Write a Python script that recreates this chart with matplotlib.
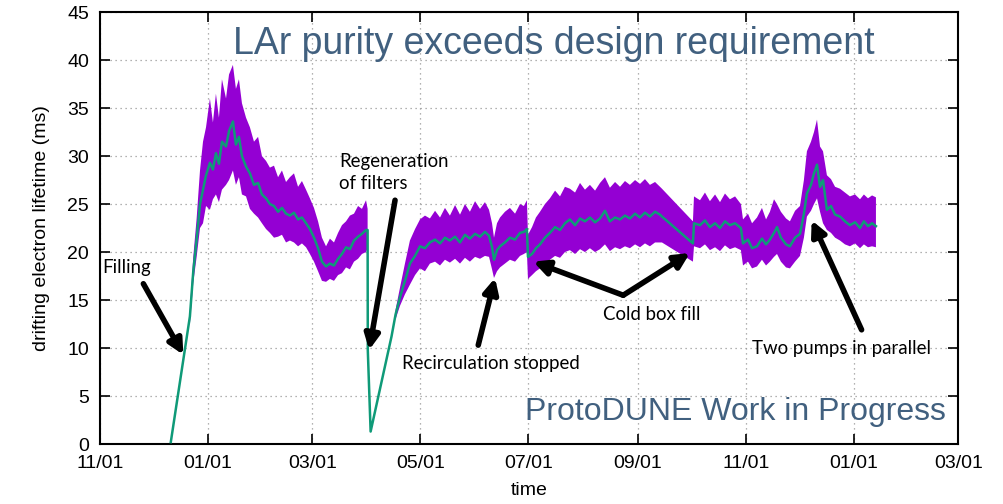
import numpy as np
import pandas as pd
import matplotlib
matplotlib.use("Agg")
import matplotlib.pyplot as plt
import matplotlib.dates as mdates

# Electron lifetime monitor: mean value (green) and spread (purple band)
start_date = "2017-11-01"
end_date = "2019-03-01"

# days since start_date
days = [
    40.0, 47.6, 50.8, 52.7, 54.6, 56.5, 58.2, 59.9, 62.1, 63.8,
    65.5, 67.2, 68.9, 71.2, 72.9, 75.1, 76.8, 78.5, 80.2, 82.5,
    84.7, 87.0, 89.3, 91.5, 93.8, 96.0, 98.3, 100.6, 102.8, 105.1,
    107.3, 109.6, 111.9, 114.1, 116.4, 118.6, 120.9, 123.2, 125.4, 127.7,
    129.9, 132.2, 134.5, 136.7, 139.0, 141.2, 143.5, 145.8, 148.0, 150.3,
    151.2, 151.3, 152.9, 164.7, 167.0, 169.5, 172.3, 175.1, 178.0, 180.8,
    183.6, 186.4, 189.3, 192.1, 194.9, 197.7, 200.6, 203.4, 206.2, 209.0,
    211.9, 214.7, 217.5, 219.8, 221.5, 222.6, 224.3, 226.0, 228.8, 231.6,
    234.5, 237.3, 239.5, 241.2, 241.8, 244.1, 246.3, 248.6, 251.4, 254.2,
    257.1, 259.9, 262.7, 265.5, 268.4, 271.2, 274.0, 276.8, 279.7, 282.5,
    285.3, 288.1, 291.0, 293.8, 296.6, 299.4, 302.3, 305.1, 307.9, 310.7,
    313.6, 316.4, 317.5, 335.0, 335.6, 339.0, 341.8, 344.6, 347.5, 350.3,
    353.1, 355.9, 358.8, 362.1, 363.3, 366.1, 368.4, 371.2, 374.0, 376.3,
    378.5, 380.8, 382.5, 384.7, 387.6, 389.8, 392.7, 395.5, 397.7, 399.4,
    401.7, 403.4, 405.1, 406.8, 408.5, 410.7, 413.0, 415.3, 418.1, 420.9,
    423.7, 426.6, 429.4, 431.6, 433.9, 436.2, 438.4,
]

lifetime = [
    0.2, 9.4, 13.3, 18.0, 21.3, 25.0, 26.5, 28.0, 29.3, 28.6,
    30.3, 29.2, 31.5, 31.0, 32.6, 33.6, 31.2, 32.0, 30.0, 28.9,
    28.2, 27.0, 27.2, 26.0, 25.6, 25.0, 24.8, 24.2, 24.6, 24.0,
    23.8, 24.1, 23.4, 23.6, 23.0, 22.4, 21.5, 20.4, 19.0, 18.5,
    18.8, 18.6, 19.3, 19.8, 20.5, 20.3, 21.2, 21.6, 21.9, 22.3,
    22.3, 9.8, 1.3, 11.2, 13.5, 15.3, 17.0, 18.8, 19.6, 20.6,
    20.4, 21.0, 21.3, 20.9, 21.5, 21.2, 21.6, 21.0, 21.8, 21.4,
    21.9, 21.6, 22.1, 21.7, 20.5, 19.2, 20.2, 20.6, 21.0, 21.5,
    21.3, 22.0, 22.1, 22.4, 19.5, 19.8, 20.4, 20.8, 21.5, 22.0,
    22.6, 22.3, 23.0, 23.4, 22.8, 23.5, 23.2, 23.6, 23.1, 23.5,
    24.3, 23.2, 23.6, 23.4, 23.8, 23.5, 24.0, 23.6, 24.1, 23.7,
    24.2, 23.9, 23.7, 20.9, 23.0, 22.8, 23.3, 22.6, 23.0, 22.5,
    23.2, 22.8, 23.0, 22.5, 20.9, 21.3, 20.4, 20.6, 21.4, 20.8,
    21.3, 22.0, 22.6, 21.5, 20.8, 20.6, 21.5, 21.9, 24.0, 26.1,
    27.0, 28.2, 29.1, 26.8, 27.5, 24.4, 24.8, 23.9, 23.7, 23.2,
    22.8, 23.1, 22.5, 23.2, 22.7, 23.0, 22.7,
]

nan = np.nan
band_upper = [
    nan, nan, 14.0, 19.5, 23.5, 28.5, 31.5, 33.0, 36.0, 33.5,
    36.5, 34.0, 38.0, 36.0, 38.5, 39.5, 37.0, 38.0, 35.5, 34.0,
    33.0, 31.5, 32.0, 30.0, 29.5, 28.8, 29.0, 27.8, 28.5, 27.3,
    27.8, 28.2, 26.8, 27.4, 26.5, 25.6, 24.6, 23.2, 21.5, 20.6,
    21.4, 21.0, 22.0, 22.8, 23.2, 23.8, 24.0, 24.8, 24.5, 25.4,
    24.5, nan, nan, nan, 14.0, 16.3, 18.8, 21.2, 22.4, 23.4,
    23.8, 23.5, 24.3, 23.6, 24.6, 23.8, 24.9, 23.9, 25.0, 24.2,
    25.3, 24.5, 25.2, 24.4, 23.0, 21.5, 23.0, 23.6, 24.2, 24.6,
    24.0, 25.0, 24.8, 25.4, 21.8, 22.6, 23.6, 24.2, 25.0, 25.6,
    26.4, 25.8, 26.8, 26.6, 26.2, 27.2, 26.5, 27.0, 26.4, 27.2,
    27.8, 26.7, 27.3, 26.8, 27.4, 27.0, 27.5, 27.1, 27.6, 27.0,
    27.3, 26.8, 26.6, 23.2, 25.8, 25.4, 26.2, 25.3, 26.0, 25.2,
    26.1, 25.5, 25.8, 25.0, 23.4, 24.0, 23.0, 23.6, 24.6, 23.4,
    24.2, 25.5, 25.0, 24.2, 23.5, 23.2, 24.3, 24.8, 27.5, 30.5,
    31.5, 32.5, 33.8, 31.0, 30.5, 28.0, 27.6, 26.8, 26.6, 26.2,
    25.8, 26.0, 25.5, 26.0, 25.6, 25.9, 25.7,
]

band_lower = [
    nan, nan, 12.5, 16.8, 19.5, 22.5, 23.0, 24.8, 24.4, 25.5,
    26.0, 25.2, 26.5, 27.0, 27.5, 28.5, 27.0, 27.8, 26.0, 25.8,
    24.5, 24.0, 23.6, 23.0, 22.4, 22.0, 21.5, 21.6, 21.8, 21.0,
    21.2, 21.0, 20.6, 20.9, 20.5, 19.8, 19.0, 18.0, 17.0, 16.9,
    17.2, 17.0, 17.6, 17.8, 18.4, 18.2, 19.0, 19.3, 19.8, 20.0,
    20.4, nan, nan, nan, 13.0, 14.4, 15.6, 16.6, 17.6, 18.3,
    18.0, 18.8, 19.0, 18.6, 19.2, 18.9, 19.3, 18.8, 19.4, 19.0,
    19.5, 19.3, 19.6, 19.5, 18.2, 17.3, 18.0, 18.4, 18.8, 19.2,
    19.0, 19.6, 19.8, 20.0, 17.2, 17.6, 18.0, 18.3, 18.8, 19.2,
    19.6, 19.4, 20.0, 20.2, 19.8, 20.3, 20.0, 20.4, 20.0, 20.3,
    20.8, 20.1, 20.5, 20.3, 20.6, 20.4, 20.8, 20.5, 20.9, 20.6,
    21.0, 21.0, 21.0, 19.0, 20.6, 20.4, 20.8, 20.2, 20.5, 20.1,
    20.7, 20.3, 20.5, 20.2, 18.6, 19.0, 18.3, 18.5, 19.2, 18.6,
    19.0, 19.5, 19.8, 19.0, 18.4, 18.3, 19.0, 19.6, 21.5, 23.7,
    24.3, 25.0, 25.6, 24.2, 23.0, 22.3, 22.0, 21.5, 21.2, 20.8,
    20.6, 20.9, 20.4, 20.8, 20.5, 20.6, 20.5,
]

t0 = pd.Timestamp(start_date)
time = t0 + pd.to_timedelta(days, unit="D")

plt.rcParams["font.family"] = ["Liberation Sans", "DejaVu Sans"]

fig = plt.figure(figsize=(10.04, 5.04), dpi=100)
ax = fig.add_axes([0.0996, 0.119, 0.855, 0.857])

ax.fill_between(time, band_lower, band_upper, color="#9400d3", lw=0, zorder=2)
ax.plot(time, lifetime, color="#0f9a78", lw=1.8, zorder=3)

ax.set_xlim(t0, pd.Timestamp(end_date))
ax.set_ylim(0, 45)
ax.set_yticks(np.arange(0, 46, 5))
ax.xaxis.set_major_locator(mdates.MonthLocator(bymonth=[1, 3, 5, 7, 9, 11]))
ax.xaxis.set_major_formatter(mdates.DateFormatter("%m/%d"))

ax.grid(True, linestyle=(0, (1, 3)), color="#999999", lw=0.9)
ax.tick_params(direction="in", length=7, width=1.2, top=True, right=True,
               labelsize=14, pad=8)
for s in ax.spines.values():
    s.set_linewidth(1.5)

ax.set_xlabel("time", fontsize=14, labelpad=7)
ax.set_ylabel("drifting electron lifetime (ms)", fontsize=14, labelpad=12)

# annotations: (text position, arrow tail, arrow tip) in days / ms
note_font = dict(family=["Lato", "DejaVu Sans"], fontsize=13.4, color="black")
arrow = dict(arrowstyle="-|>", lw=4, color="black", mutation_scale=22,
             shrinkA=0, shrinkB=0)


def day(d):
    return t0 + pd.Timedelta(days=d)


ax.text(day(1.0), 18.4, "Filling", ha="left", va="center", **note_font)
ax.annotate("", xy=(day(47.1), 9.3), xytext=(day(24.5), 16.7), arrowprops=arrow)

ax.text(day(135.0), 28.3, "Regeneration\nof filters", ha="left", va="center",
        linespacing=1.4, **note_font)
ax.annotate("", xy=(day(152.1), 9.8), xytext=(day(166.7), 25.4), arrowprops=arrow)

ax.text(day(170.6), 8.4, "Recirculation stopped", ha="left", va="center", **note_font)
ax.annotate("", xy=(day(223.2), 17.3), xytext=(day(213.7), 10.3), arrowprops=arrow)

ax.text(day(284.2), 13.5, "Cold box fill", ha="left", va="center", **note_font)
ax.annotate("", xy=(day(244.8), 19.0), xytext=(day(295.6), 15.5), arrowprops=arrow)
ax.annotate("", xy=(day(333.3), 19.9), xytext=(day(295.6), 15.5), arrowprops=arrow)

ax.text(day(368.4), 9.9, "Two pumps in parallel", ha="left", va="center", **note_font)
ax.annotate("", xy=(day(402.1), 23.3), xytext=(day(430.3), 11.9), arrowprops=arrow)

blue = "#41607f"
ax.text(0.529, 0.926, "LAr purity exceeds design requirement", transform=ax.transAxes,
        ha="center", va="center", fontsize=27, color=blue, zorder=5)
ax.text(0.74, 0.074, "ProtoDUNE Work in Progress", transform=ax.transAxes,
        ha="center", va="center", fontsize=23, color=blue, zorder=5)

fig.savefig("out.png", dpi=100)
